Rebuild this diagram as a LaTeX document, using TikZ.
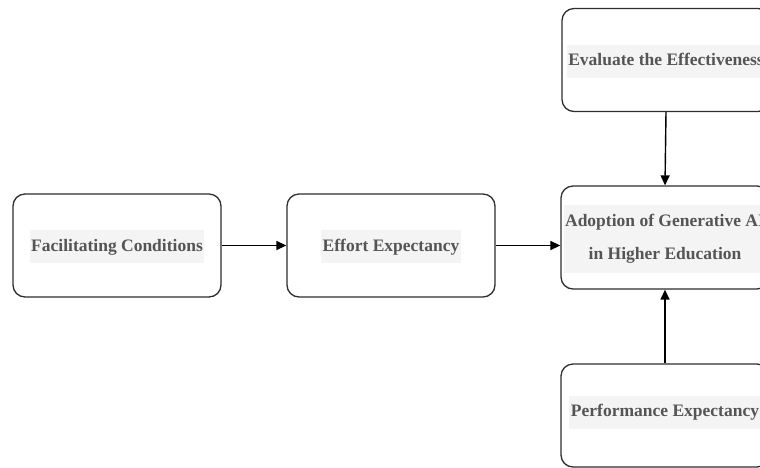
\documentclass[tikz,border=0pt]{standalone}
\usepackage{fontspec}
\setmainfont{Liberation Serif}
\usetikzlibrary{arrows.meta}
\definecolor{hl}{HTML}{F4F4F4}
\definecolor{txt}{HTML}{555555}
\definecolor{edge}{HTML}{2E2E2E}
\begin{document}
\begin{tikzpicture}[x=1pt,y=-1pt,
  box/.style={draw=edge, line width=1.3pt, rounded corners=12pt, minimum width=208pt, minimum height=103pt, fill=white, inner sep=0pt},
  lbl/.style={fill=hl, text=txt, font=\bfseries\fontsize{17.5}{33}\selectfont, align=center, inner xsep=1.5pt, inner ysep=0pt, text height=21pt, text depth=12pt},
  lbltwo/.style={fill=hl, text=txt, font=\bfseries\fontsize{17.5}{33}\selectfont, align=center, inner xsep=1.5pt, inner ysep=9pt},
  arr/.style={draw=black, line width=1.4pt, -{Triangle[length=10pt,width=9pt]}}]
\useasboundingbox (0,0) rectangle (760,467);
\clip (0,0) rectangle (760,467);
\node[box] (fc) at (117,245.5) {};
\node[lbl] (fct) at (117,246.5) {Facilitating Conditions};
\node[box] (ee) at (391,245.5) {};
\node[lbl] (eet) at (391,246.5) {Effort Expectancy};
\node[box] (ad) at (665,237.5) {};
\node[lbltwo] (adt) at (665,239) {Adoption of Generative AI\\in Higher Education};
\node[box] (ev) at (666,60) {};
\node[lbl] (evt) at (666,61) {Evaluate the Effectiveness};
\node[box] (pe) at (665,415.5) {};
\node[lbl] (pet) at (665,412) {Performance Expectancy};
\coordinate (adin) at (ad.west |- ee.east);
\draw[arr] (fc.east) -- (ee.west);
\draw[arr] (ee.east) -- (adin);
\draw[arr] (ev.south) -- (ad.north);
\draw[arr] (pe.north) -- (ad.south);
\end{tikzpicture}
\end{document}
